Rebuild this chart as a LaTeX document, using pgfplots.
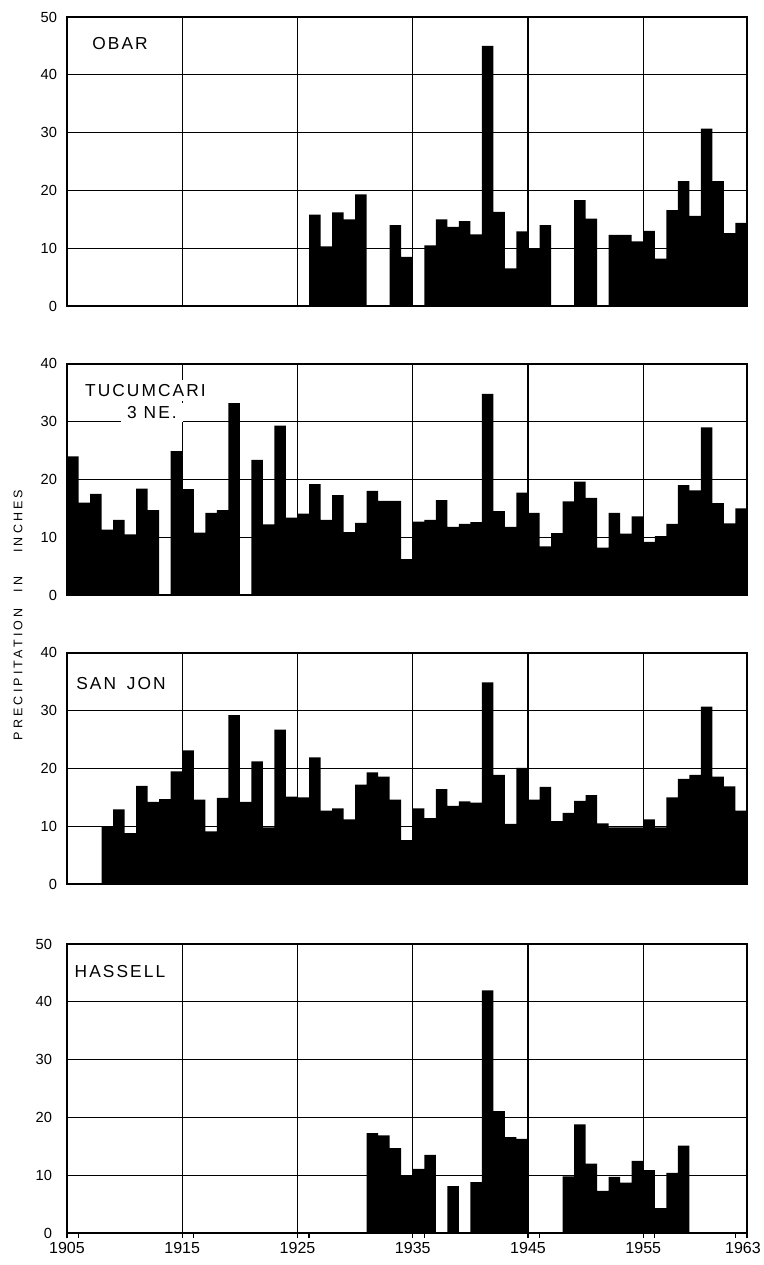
\documentclass[border=0pt]{standalone}
\usepackage{fontspec}
\setmainfont{Liberation Sans}
\usepackage{pgfplots}
\pgfplotsset{compat=1.18}
\usepackage{pgfplotstable}

\pgfplotstableread{
year obar tuc san has
1905 0 24.0 0 0
1906 0 16.0 0 0
1907 0 17.5 0 0
1908 0 11.3 10.0 0
1909 0 13.0 12.9 0
1910 0 10.5 8.8 0
1911 0 18.4 17.0 0
1912 0 14.7 14.2 0
1913 0 0 14.7 0
1914 0 24.9 19.5 0
1915 0 18.3 23.1 0
1916 0 10.8 14.6 0
1917 0 14.2 9.1 0
1918 0 14.7 14.9 0
1919 0 33.2 29.2 0
1920 0 0 14.2 0
1921 0 23.4 21.2 0
1922 0 12.2 9.8 0
1923 0 29.3 26.7 0
1924 0 13.4 15.1 0
1925 0 14.1 15.0 0
1926 15.8 19.2 21.9 0
1927 10.3 13.0 12.7 0
1928 16.2 17.3 13.1 0
1929 15.0 10.9 11.2 0
1930 19.3 12.5 17.2 0
1931 0 18.0 19.3 17.3
1932 0 16.3 18.6 16.9
1933 14.0 16.3 14.6 14.7
1934 8.5 6.2 7.6 9.9
1935 0 12.7 13.1 11.1
1936 10.5 13.0 11.4 13.5
1937 15.0 16.4 16.4 0
1938 13.7 11.8 13.5 8.1
1939 14.7 12.3 14.3 0
1940 12.4 12.6 14.1 8.8
1941 45.0 34.8 34.9 42.0
1942 16.3 14.5 18.9 21.1
1943 6.5 11.8 10.4 16.6
1944 12.9 17.7 20.1 16.3
1945 10.0 14.2 14.6 0
1946 14.0 8.4 16.8 0
1947 0 10.7 10.9 0
1948 0 16.2 12.3 9.8
1949 18.3 19.6 14.4 18.8
1950 15.1 16.8 15.4 12.0
1951 0 8.2 10.5 7.3
1952 12.3 14.2 9.8 9.7
1953 12.3 10.6 9.8 8.7
1954 11.2 13.6 9.8 12.5
1955 13.0 9.2 11.2 10.9
1956 8.2 10.2 9.8 4.3
1957 16.6 12.3 15.0 10.4
1958 21.6 19.0 18.2 15.1
1959 15.6 18.1 18.9 0
1960 30.7 29.0 30.7 0
1961 21.6 15.9 18.6 0
1962 12.6 12.4 16.9 0
1963 14.4 15.0 12.7 0
1964 0 0 0 0
}\precip

\pgfplotsset{
  panel/.style={
    scale only axis, width=510pt,
    xmin=1905, xmax=1964, ymin=0,
    xtick={1905,1915,1925,1935,1945,1955},
    xticklabels={},
    xmajorgrids, ymajorgrids,
    major grid style={draw=black, line width=1pt},
    axis line style={line width=1.5pt},
    ytick style={draw=none},
    xtick style={draw=none},
    /pgf/number format/assume math mode=true,
    yticklabel style={font=\fontsize{11}{13}\selectfont, xshift=-4pt},
  },
  tall/.style={height=216.75pt, ymax=50, ytick={0,10,20,30,40,50}},
  short/.style={height=173.4pt, ymax=40, ytick={0,10,20,30,40}},
  bars/.style={const plot mark left, fill=black, draw=none},
}
\newcommand\stfont{\fontsize{13}{15}\selectfont\addfontfeature{LetterSpace=12}}

\begin{document}
\begin{tikzpicture}
\useasboundingbox (0,0) rectangle (573pt,-948.75pt);

\begin{axis}[panel, tall, at={(50.25pt,-229.5pt)}, anchor=south west]
\addplot[bars] table[x=year,y=obar]{\precip} \closedcycle;
\end{axis}

\begin{axis}[panel, short, at={(50.25pt,-446.25pt)}, anchor=south west]
\addplot[bars] table[x=year,y=tuc]{\precip} \closedcycle;
\end{axis}

\begin{axis}[panel, short, at={(50.25pt,-663pt)}, anchor=south west]
\addplot[bars] table[x=year,y=san]{\precip} \closedcycle;
\end{axis}

\begin{axis}[panel, tall, at={(50.25pt,-924.75pt)}, anchor=south west,
  xtick={1905,1915,1925,1935,1945,1955,1964},
  xticklabels={1905,1915,1925,1935,1945,1955,\hspace*{-6pt}1963},
  minor xtick={1906,1916,1926,1936,1946,1956,1963},
  xtick style={draw=black, line width=1pt},
  minor x tick style={draw=black, line width=1pt},
  major tick length=3.75pt, minor tick length=3.75pt,
  tick align=outside, xtick pos=bottom,
  xticklabel style={font=\fontsize{12}{14}\selectfont},
]
\addplot[bars] table[x=year,y=has]{\precip} \closedcycle;
\end{axis}

\node[fill=white, inner sep=1pt, font=\stfont] at (90pt,-32.6pt) {OBAR};
\node[fill=white, inner xsep=1pt, inner ysep=3pt, font=\stfont] at (109.1pt,-292.9pt) {TUCUMCARI};
\node[fill=white, inner xsep=4pt, inner ysep=2.5pt, minimum width=47pt, font=\stfont] at (114pt,-309.5pt) {3 NE.};
\node[fill=white, inner sep=1pt, font=\stfont] at (90.75pt,-512.6pt) {SAN\hspace{8pt}JON};
\node[fill=white, inner sep=1pt, font=\stfont] at (90pt,-728.6pt) {HASSELL};

\node[rotate=90, font=\fontsize{9.4}{11}\selectfont\addfontfeature{LetterSpace=25}] at (13.5pt,-461.25pt)
  {PRECIPITATION\hspace{12pt}IN\hspace{18pt}INCHES};
\end{tikzpicture}
\end{document}
